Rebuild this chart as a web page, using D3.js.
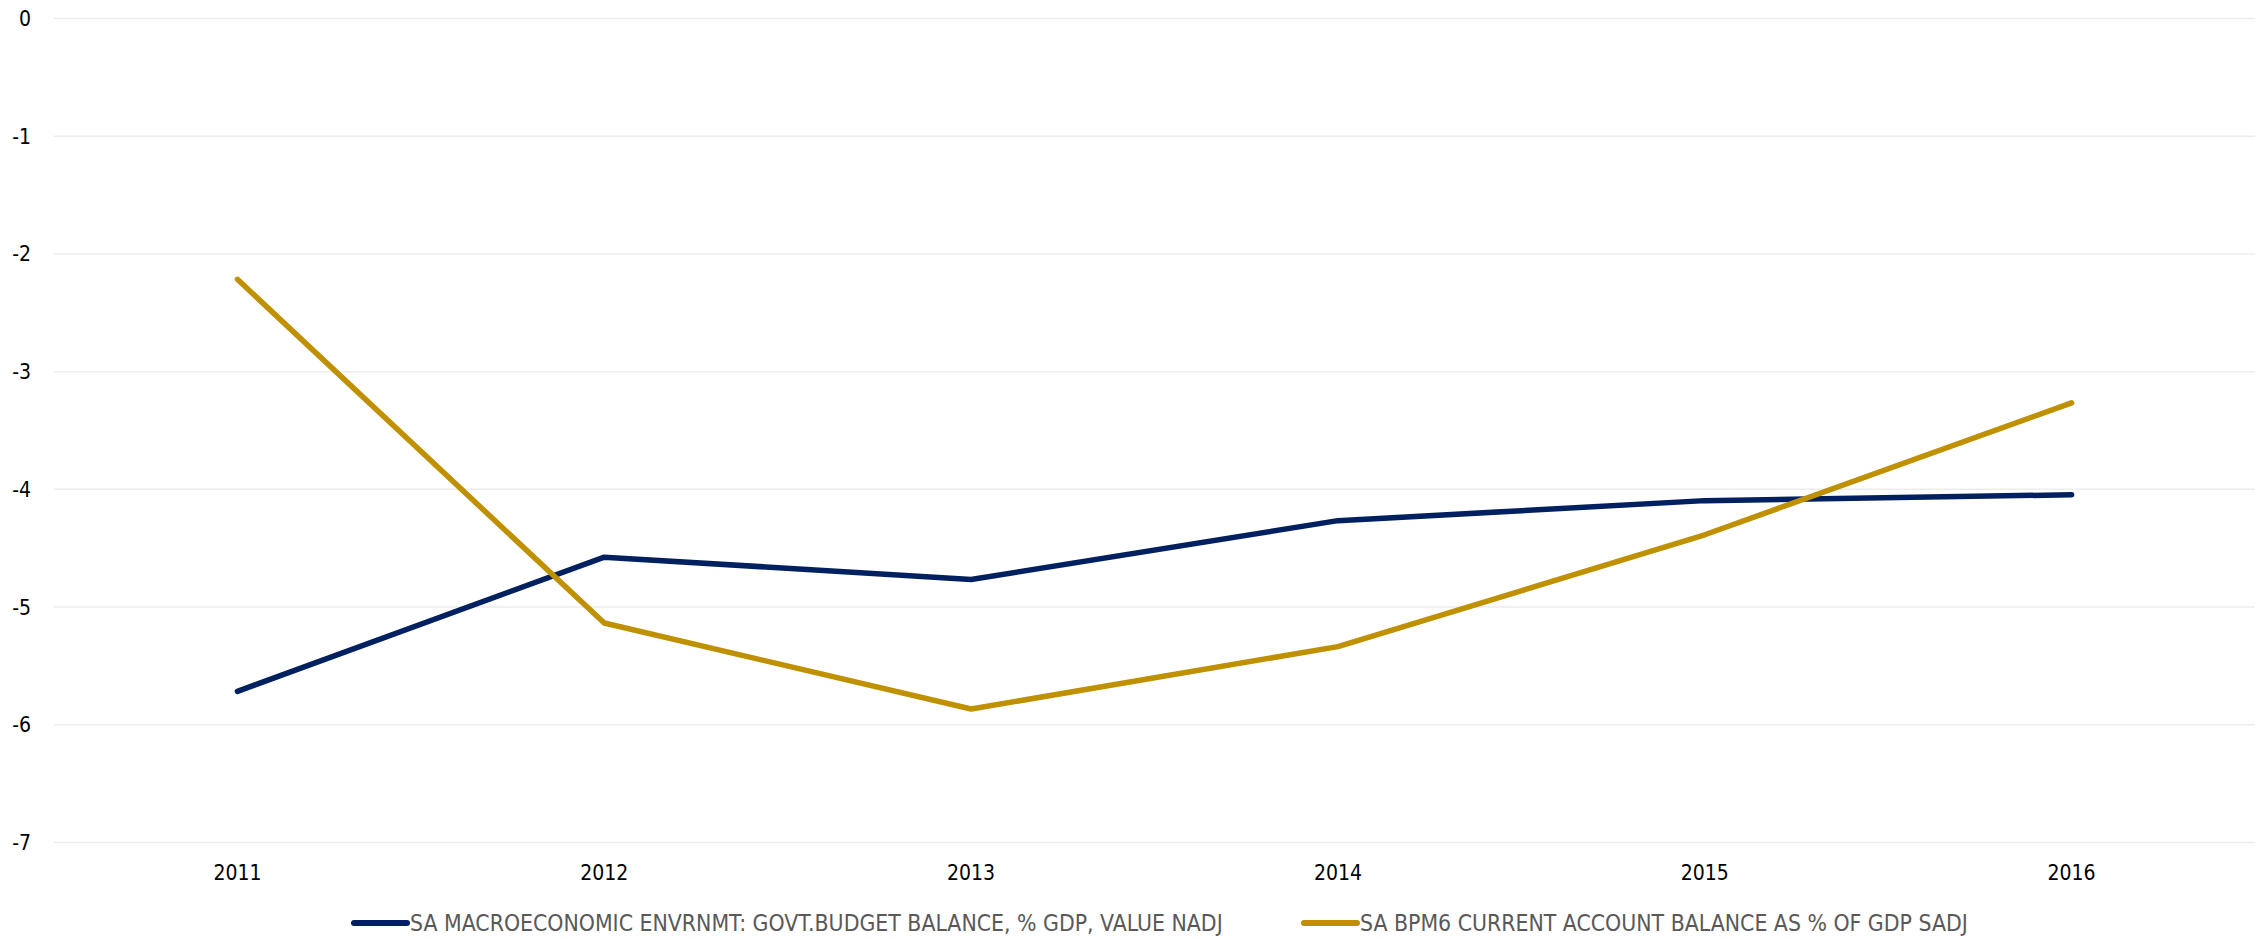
<!DOCTYPE html>
<html>
<head>
<meta charset="utf-8">
<script src="https://cdn.jsdelivr.net/npm/d3@7"></script>
<style>
  html, body { margin: 0; padding: 0; background: #ffffff; }
  svg { display: block; }
</style>
</head>
<body>
<svg id="chart" width="2267" height="939"></svg>
<script>
const years = ["2011", "2012", "2013", "2014", "2015", "2016"];
const budgetBalance = [-5.72, -4.58, -4.77, -4.27, -4.10, -4.05];
const currentAccount = [-2.22, -5.14, -5.87, -5.34, -4.39, -3.27];
const yTicks = [0, -1, -2, -3, -4, -5, -6, -7];
const seriesNames = [
  "SA MACROECONOMIC ENVRNMT: GOVT.BUDGET BALANCE, % GDP, VALUE NADJ",
  "SA BPM6 CURRENT ACCOUNT BALANCE AS % OF GDP SADJ"
];
const seriesColors = ["#002060", "#BF9000"];

(function () {
const svg = d3.select("#chart");
const font = "'DejaVu Sans Condensed', 'DejaVu Sans', sans-serif";

const mLeft = 54, mRight = 2255, mTop = 18, mBottom = 842;

const x = d3.scaleBand().domain(years).range([mLeft, mRight]);
const y = d3.scaleLinear().domain([0, -7]).range([mTop, mBottom]);

// gridlines
const yAxis = d3.axisLeft(y).tickValues(yTicks).tickSize(-(mRight - mLeft)).tickFormat(d => String(d));
const gy = svg.append("g").attr("transform", `translate(${mLeft},0)`).call(yAxis);
gy.select(".domain").remove();
gy.selectAll(".tick line").attr("stroke", "#EDEDED").attr("stroke-width", 1.5);
gy.selectAll(".tick text")
  .attr("x", -23)
  .attr("dy", "0.36em")
  .attr("fill", "#000")
  .style("font-family", font)
  .style("font-size", "21px");

// x axis labels
const xAxis = d3.axisBottom(x).tickSize(0);
const gx = svg.append("g").attr("transform", `translate(0,${mBottom})`).call(xAxis);
gx.select(".domain").remove();
gx.selectAll(".tick text")
  .attr("y", 0)
  .attr("dy", "38px")
  .attr("fill", "#000")
  .style("font-family", font)
  .style("font-size", "21px");

const line = d3.line()
  .x((d, i) => x(years[i]) + x.bandwidth() / 2)
  .y(d => y(d));

[budgetBalance, currentAccount].forEach((vals, k) => {
  svg.append("path")
    .datum(vals)
    .attr("fill", "none")
    .attr("stroke", seriesColors[k])
    .attr("stroke-width", 5.5)
    .attr("stroke-linecap", "round")
    .attr("stroke-linejoin", "round")
    .attr("d", line);
});

// legend
const legendX = [354, 1304];
const legendY = 923;
seriesNames.forEach((name, k) => {
  const g = svg.append("g").attr("transform", `translate(${legendX[k]},${legendY})`);
  g.append("line")
    .attr("x1", 0).attr("x2", 53)
    .attr("y1", 0).attr("y2", 0)
    .attr("stroke", seriesColors[k])
    .attr("stroke-width", 6)
    .attr("stroke-linecap", "round");
  g.append("text")
    .attr("x", 56)
    .attr("y", 0)
    .attr("dy", "0.36em")
    .attr("fill", "#595959")
    .style("font-family", font)
    .style("font-size", "22.8px")
    .text(name);
});
})();
</script>
</body>
</html>
